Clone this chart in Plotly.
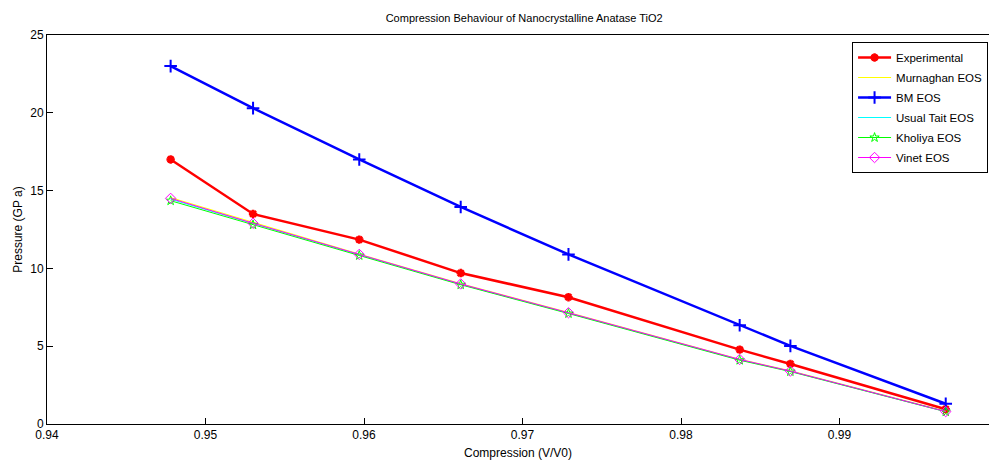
import plotly.graph_objects as go

compression = [0.9478, 0.9530, 0.9597, 0.9661, 0.9729, 0.9837, 0.9869, 0.9967]
experimental = [17.0, 13.5, 11.85, 9.7, 8.15, 4.78, 3.86, 0.95]
murnaghan = [14.55, 12.95, 10.92, 9.02, 7.17, 4.16, 3.42, 0.82]
bm = [23.0, 20.3, 17.0, 13.95, 10.9, 6.35, 5.02, 1.3]
tait = [14.45, 12.88, 10.88, 8.98, 7.13, 4.13, 3.39, 0.8]
kholiya = [14.35, 12.8, 10.83, 8.95, 7.1, 4.1, 3.37, 0.79]
vinet = [14.5, 12.9, 10.9, 9.0, 7.15, 4.15, 3.4, 0.8]

x_ticks = [0.94, 0.95, 0.96, 0.97, 0.98, 0.99]
y_ticks = [0, 5, 10, 15, 20, 25]

font = "Liberation Sans, Arial, sans-serif"

fig = go.Figure()
fig.add_trace(go.Scatter(x=compression, y=experimental, name="Experimental", mode="lines+markers",
                         legendgroup="a",
                         line=dict(color="#ff0000", width=2.5),
                         marker=dict(symbol="asterisk", size=7, line=dict(color="#ff0000", width=2.5), color="#ff0000")))
fig.add_trace(go.Scatter(x=compression, y=murnaghan, name="Murnaghan EOS", mode="lines",
                         legendgroup="b",
                         line=dict(color="#ffff00", width=1)))
fig.add_trace(go.Scatter(x=compression, y=bm, name="BM EOS", mode="lines+markers",
                         legendgroup="c",
                         line=dict(color="#0000ff", width=2.5),
                         marker=dict(symbol="cross-thin", size=9, line=dict(color="#0000ff", width=2))))
fig.add_trace(go.Scatter(x=compression, y=tait, name="Usual Tait EOS", mode="lines",
                         legendgroup="d",
                         line=dict(color="#00ffff", width=1)))
fig.add_trace(go.Scatter(x=compression, y=kholiya, name="Kholiya EOS", mode="lines+markers",
                         legendgroup="e",
                         line=dict(color="#00ff00", width=1),
                         marker=dict(symbol="star-open", size=7, color="#00ff00", line=dict(width=1))))
fig.add_trace(go.Scatter(x=compression, y=vinet, name="Vinet EOS", mode="lines+markers",
                         legendgroup="f",
                         line=dict(color="#ff00ff", width=1),
                         marker=dict(symbol="diamond-open", size=8, color="#ff00ff", line=dict(width=1))))

fig.update_layout(
    width=989, height=462,
    margin=dict(l=47, r=0, t=35, b=38),
    paper_bgcolor="white", plot_bgcolor="white",
    font=dict(family=font, size=12, color="black"),
    title=dict(text="Compression Behaviour of Nanocrystalline Anatase TiO2", x=0.53, xanchor="center",
               y=1 - 18 / 462, yanchor="middle", font=dict(size=11)),
    showlegend=True,
    legend=dict(x=0.999, y=0.982, xanchor="right", yanchor="top", bgcolor="white",
                bordercolor="black", borderwidth=1, font=dict(size=11.5), itemwidth=33,
                tracegroupgap=1, traceorder="grouped"),
)
fig.update_xaxes(range=[0.94, 0.99943], tickvals=x_ticks, ticktext=[f"{v:.2f}" for v in x_ticks],
                 ticks="inside", ticklen=6, tickcolor="black", showgrid=False, zeroline=False,
                 showline=True, linecolor="black", linewidth=1, mirror=True,
                 title=dict(text="Compression (V/V0)", standoff=7, font=dict(size=12)))
fig.update_yaxes(range=[0, 25], tickvals=y_ticks, ticks="inside", ticklen=6, tickcolor="black",
                 showgrid=False, zeroline=False, showline=True, linecolor="black", linewidth=1, mirror=True,
                 title=dict(text="Pressure (GP a)", standoff=5, font=dict(size=12)))

fig.write_html("out.html", config={"displayModeBar": False})

# remove the default body margin of the page so the figure sits at the window's corner
with open("out.html", "r", encoding="utf-8") as f:
    html = f.read()
html = html.replace("<head>", "<head><style>html,body{margin:0;padding:0;overflow:hidden;}</style>", 1)
with open("out.html", "w", encoding="utf-8") as f:
    f.write(html)
